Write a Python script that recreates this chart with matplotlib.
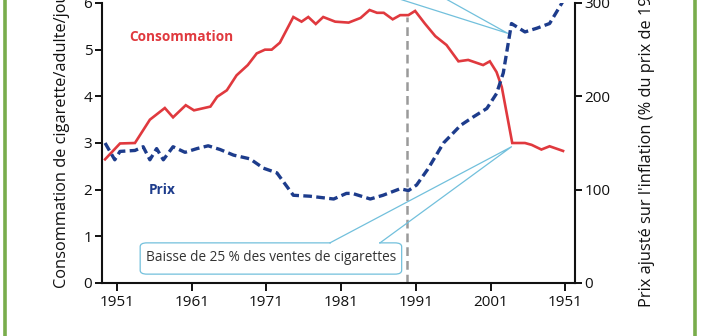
import matplotlib
matplotlib.use("Agg")
import matplotlib.pyplot as plt
from matplotlib.patches import FancyBboxPatch
from matplotlib.lines import Line2D

plt.rcParams['font.family'] = ['Open Sans', 'DejaVu Sans']

# ---- data ----
cons_years = [1949.4, 1951.4, 1953.4, 1955.4, 1957.4, 1958.5, 1960.2, 1961.3, 1963.5, 1964.4,
              1965.7, 1967.0, 1968.5, 1969.7, 1970.8, 1971.7, 1972.8, 1974.6, 1975.7, 1976.6,
              1977.6, 1978.6, 1980.2, 1982.0, 1983.6, 1984.8, 1985.8, 1986.7, 1987.9, 1988.9,
              1990.0, 1990.9, 1992.2, 1993.6, 1995.1, 1996.7, 1998.0, 2000.0, 2000.9, 2001.8,
              2002.5, 2003.9, 2005.6, 2006.5, 2007.8, 2008.9, 2010.7]
consommation = [2.65, 2.99, 3.00, 3.50, 3.75, 3.55, 3.81, 3.70, 3.78, 3.99,
                4.13, 4.45, 4.67, 4.92, 5.00, 5.00, 5.15, 5.70, 5.60, 5.70,
                5.55, 5.70, 5.60, 5.58, 5.68, 5.85, 5.79, 5.79, 5.65, 5.74,
                5.74, 5.83, 5.56, 5.29, 5.10, 4.75, 4.78, 4.67, 4.75, 4.52,
                4.20, 3.00, 3.00, 2.96, 2.86, 2.93, 2.83]

price_years = [1949.4, 1950.7, 1951.4, 1953.4, 1954.5, 1955.4, 1956.3, 1957.2, 1958.5, 1960.1,
               1961.7, 1963.2, 1964.8, 1966.6, 1968.8, 1970.6, 1972.4, 1974.6, 1976.8, 1980.0,
               1981.7, 1982.5, 1984.9, 1986.6, 1988.9, 1990.0, 1991.1, 1992.6, 1994.7, 1997.0,
               1998.7, 2000.5, 2001.8, 2002.7, 2003.8, 2005.6, 2007.2, 2008.9, 2010.7]
prix = [150, 132, 141, 142, 146, 132, 144, 132, 146, 140,
        144, 147, 143, 137, 133, 123, 118, 94, 93, 90,
        96, 96, 90, 94, 101, 99, 105, 122, 150, 169,
        178, 187, 203, 225, 278, 269, 273, 278, 302]

xtick_pos = [1951, 1961, 1971, 1981, 1991, 2001, 2011]
xtick_labels = ['1951', '1961', '1971', '1981', '1991', '2001', '1951']
left_ticks = [0, 1, 2, 3, 4, 5, 6]
right_ticks = [0, 100, 200, 300]
event_year = 1989.8

RED = '#e0393e'
NAVY = '#1d3c8c'
CALLOUT = '#72c0dc'
GREEN = '#79ad4c'

W, H = 702, 336
fig = plt.figure(figsize=(W / 100, H / 100), dpi=100)
fig.patch.set_facecolor('white')

# green side rules of the frame
fig.add_artist(Line2D([4.5 / W, 4.5 / W], [0, 1], color=GREEN, lw=2.6, transform=fig.transFigure))
fig.add_artist(Line2D([695 / W, 695 / W], [0, 1], color=GREEN, lw=2.6, transform=fig.transFigure))

ax = fig.add_axes([102 / W, (H - 283) / H, (575 - 102) / W, (283 - 3) / H])
ax.set_facecolor('none')
ax.set_xlim(1948.99, 2012.3)
ax.set_ylim(0, 6)
ax2 = ax.twinx()
ax2.set_ylim(0, 300)

for a in (ax, ax2):
    a.spines['top'].set_visible(False)
    for s in ('left', 'right', 'bottom'):
        a.spines[s].set_linewidth(1.5)
        a.spines[s].set_color('#111111')
ax.spines['right'].set_visible(False)
ax2.spines['left'].set_visible(False)
ax2.spines['bottom'].set_visible(False)

ax.set_xticks(xtick_pos)
ax.set_xticklabels(xtick_labels)
ax.set_yticks(left_ticks)
ax2.set_yticks(right_ticks)
ax.tick_params(axis='both', direction='out', length=5, width=1.4, labelsize=11, colors='#111111', pad=2)
ax.tick_params(axis='x', length=6, pad=3)
ax2.tick_params(axis='y', direction='out', length=5, width=1.4, labelsize=11, colors='#111111', pad=2)

# vertical event line
ax.plot([event_year, event_year], [0, 5.7], color='#9a9a9a', lw=1.8, linestyle=(0, (3.5, 2)), zorder=2)

# series
ax.plot(cons_years, consommation, color=RED, lw=1.9, solid_joinstyle='miter', zorder=4)
ax2.plot(price_years, prix, color=NAVY, lw=2.4, linestyle=(0, (2.6, 1.3)), zorder=4)

ax.text(1959.6, 5.27, 'Consommation', color=RED, fontsize=9.8, fontweight='bold',
        ha='center', va='center')
ax.text(1957.0, 2.0, 'Prix', color=NAVY, fontsize=9.8, fontweight='bold', ha='center', va='center')

# lower callout bubble
bx0, bx1, by0, by1 = 1954.1, 1989.1, 0.19, 0.86
box = FancyBboxPatch((bx0, by0), bx1 - bx0, by1 - by0,
                     boxstyle='round,pad=0,rounding_size=0.9',
                     mutation_aspect=0.09, facecolor='white', edgecolor=CALLOUT, lw=0.9, zorder=5)
ax.add_patch(box)
base_l, base_r = 1979.5, 1986.2
tip = (2003.8, 2.92)
ax.plot([base_l + 0.1, base_r - 0.1], [by1, by1], color='white', lw=1.6, zorder=6, solid_capstyle='butt')
ax.plot([base_l, tip[0], base_r], [by1, tip[1], by1], color=CALLOUT, lw=0.9, zorder=6)
ax.text((bx0 + bx1) / 2, (by0 + by1) / 2 + 0.02, 'Baisse de 25 % des ventes de cigarettes',
        color='#333333', fontsize=9.8, ha='center', va='center', zorder=7)

# upper callout pointer (bubble lies above the visible area)
tip2 = (2003.3, 5.35)
ax.plot([1982.6, tip2[0], 1991.5], [6.4, tip2[1], 6.4], color=CALLOUT, lw=0.9, zorder=6, clip_on=False)

# axis titles (partly cut off at the top in the original)
fig.text(62 / W, (H - 288) / H, 'Consommation de cigarette/adulte/jour', rotation=90,
         ha='center', va='bottom', fontsize=11.8, color='#111111')
fig.text(647 / W, (H - 307) / H, "Prix ajusté sur l'inflation (% du prix de 1990)", rotation=90,
         ha='center', va='bottom', fontsize=11.8, color='#111111')

fig.savefig('out.png', dpi=100, facecolor='white')
